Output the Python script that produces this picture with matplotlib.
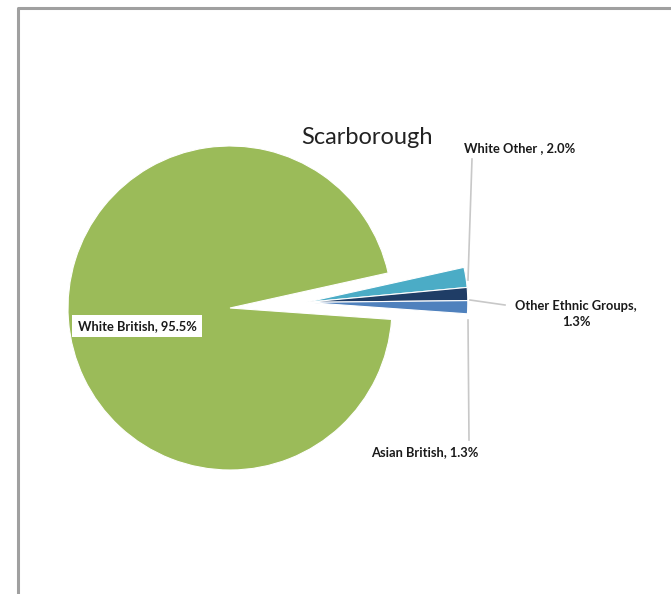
"""Scarborough ethnic composition pie (recreated)."""

import matplotlib
matplotlib.use("Agg")
import matplotlib.pyplot as plt
import numpy as np

W, H = 671, 594

# ---------------------------------------------------------------------------
# Data
# ---------------------------------------------------------------------------
GROUPS = ["White Other", "Other Ethnic Groups", "Asian British", "White British"]
SHARES = [2.0, 1.3, 1.3, 95.5]
LABELS = ["White Other , 2.0%", "Other Ethnic Groups,\n1.3%", "Asian British, 1.3%", "White British, 95.5%"]
COLORS = ["#4BACC6", "#1F3D66", "#4F81BD", "#9BBB59"]

FONT = ["Lato", "DejaVu Sans"]

fig = plt.figure(figsize=(W / 100, H / 100), dpi=100)
ax = fig.add_axes([0, 0, 1, 1])

cx, cy, r = 230, H - 308, 162
wedges, _ = ax.pie(
    SHARES,
    colors=COLORS,
    startangle=12.5,
    counterclock=False,
    center=(cx, cy),
    radius=r,
    wedgeprops=dict(edgecolor="white", linewidth=0.8),
)

# pull the three small slices out together along the middle of the gap
gap_mid = np.deg2rad(12.5 - 360 * sum(SHARES[:3]) / sum(SHARES) / 2)
shift = 76
for w in wedges[:3]:
    w.set_center((cx + shift * np.cos(gap_mid), cy + shift * np.sin(gap_mid)))

ax.set_xlim(0, W)
ax.set_ylim(0, H)
ax.set_aspect("equal")
ax.axis("off")

# outer frame (left and top edges only are in view)
ax.plot([18, 18, W], [0, H - 8, H - 8], color="#a0a0a0", lw=2.2, solid_capstyle="butt")

ax.text(367, H - 138, "Scarborough", ha="center", va="center", fontsize=17, family=FONT, color="#222222")

lbl = dict(fontsize=9.3, fontweight="bold", family=FONT, color="#1a1a1a")
ax.text(137, H - 326, LABELS[3], ha="center", va="center",
        bbox=dict(boxstyle="square,pad=0.4", fc="white", ec="none"), **lbl)
ax.text(520, H - 148, LABELS[0], ha="center", va="center", **lbl)
ax.text(576, H - 314, LABELS[1], ha="center", va="center", linespacing=1.5, **lbl)
ax.text(425, H - 452, LABELS[2], ha="center", va="center", **lbl)

leader = dict(color="#c8c8c8", lw=1.2)
ax.plot([472, 468], [H - 159, H - 280], **leader)
ax.plot([470, 505], [H - 300, H - 305], **leader)
ax.plot([468, 469], [H - 320, H - 440], **leader)

fig.savefig("out.png", dpi=100, facecolor="white")
